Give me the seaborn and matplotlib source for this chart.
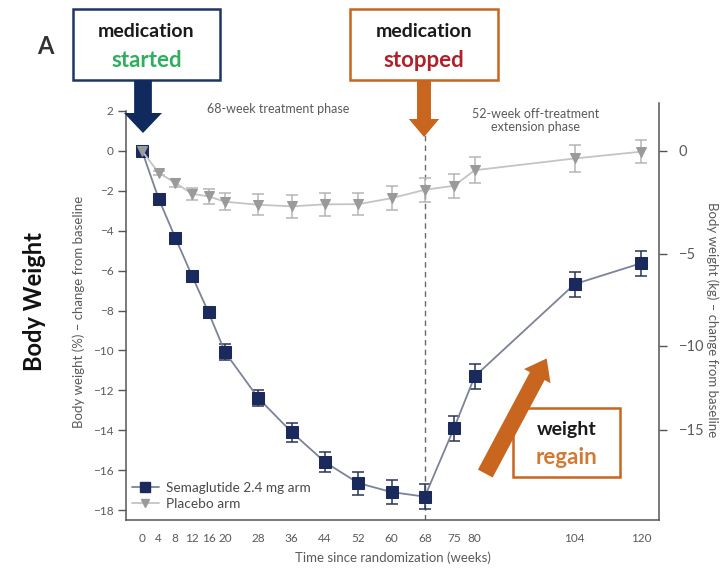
import numpy as np
import pandas as pd
import matplotlib
matplotlib.use("Agg")
import matplotlib.pyplot as plt
import seaborn as sns
from matplotlib.patches import Rectangle, FancyArrow, FancyArrowPatch
from matplotlib.lines import Line2D

# ---- data: mean % change in body weight from baseline (with SE) ----
weeks = [0, 4, 8, 12, 16, 20, 28, 36, 44, 52, 60, 68, 75, 80, 104, 120]
sema = [0, -2.4, -4.35, -6.25, -8.1, -10.1, -12.4, -14.1, -15.6, -16.65,
        -17.1, -17.33, -13.9, -11.3, -6.68, -5.63]
sema_err = [0, 0.15, 0.2, 0.25, 0.3, 0.4, 0.4, 0.48, 0.5, 0.58,
            0.6, 0.62, 0.63, 0.63, 0.63, 0.63]
placebo = [0, -1.1, -1.6, -2.15, -2.28, -2.55, -2.7, -2.78, -2.68, -2.67,
           -2.37, -1.95, -1.75, -0.97, -0.38, -0.04]
placebo_err = [0, 0.1, 0.2, 0.3, 0.38, 0.43, 0.53, 0.57, 0.56, 0.54,
               0.6, 0.6, 0.6, 0.65, 0.68, 0.58]
arms = ["Semaglutide 2.4 mg arm", "Placebo arm"]
week_ticks = weeks
pct_ticks = [2, 0, -2, -4, -6, -8, -10, -12, -14, -16, -18]
kg_ticks = [0, -5, -10, -15]
kg_tick_pct = [0, -5.16, -9.77, -13.98]

df = pd.DataFrame({
    "week": weeks * 2,
    "change": sema + placebo,
    "err": sema_err + placebo_err,
    "arm": [arms[0]] * len(weeks) + [arms[1]] * len(weeks),
})

sns.set_theme(style="white")
plt.rcParams["font.family"] = ["Lato", "DejaVu Sans"]

NAVY = "#1b2a5c"
LINE_NAVY = "#7d8397"
ORANGE = "#c8651f"
AXC = "#555555"
TXT = "#5a5a5a"


def minus(v):
    return str(v) if v >= 0 else "\u2212" + str(-v)


W, H = 724, 571


def fx(px):
    return px / W


def fy(py):
    return 1 - py / H


fig = plt.figure(figsize=(7.24, 5.71), dpi=100)
ax = fig.add_axes([126 / W, 1 - 520 / H, (659 - 126) / W, (520 - 103) / H])

palette = {arms[0]: LINE_NAVY, arms[1]: "#c4c4c4"}
sns.lineplot(data=df, x="week", y="change", hue="arm", style="arm",
             markers={arms[0]: "s", arms[1]: "v"}, dashes=False,
             palette=palette, linewidth=1.3, markersize=8, ax=ax,
             legend=False, zorder=3)

# navy squares and grey triangles on top of the connecting lines
for line, face, ms in zip(ax.lines[:2], [NAVY, "#9a9a9a"], [8.0, 6.5]):
    line.set_markerfacecolor(face)
    line.set_markeredgecolor(face)
    line.set_markersize(ms)

for arm, col in zip(arms, ["#2b3553", "#b5b5b5"]):
    sub = df[df["arm"] == arm]
    ax.errorbar(sub["week"], sub["change"], yerr=sub["err"], fmt="none",
                ecolor=col, elinewidth=1.1, capsize=4.5, capthick=1.1, zorder=2)

ax.set_xlim(-3.85, 124.3)
ax.set_ylim(-18.5, 2.4)
ax.set_xticks(week_ticks)
ax.set_xticklabels([str(w) for w in week_ticks])
ax.set_yticks(pct_ticks)
ax.set_yticklabels([minus(v) for v in pct_ticks])
ax.tick_params(axis="both", direction="out", length=6, width=1.0, color=AXC,
               labelsize=8.5, labelcolor=TXT, pad=3)
for s in ["top", "right"]:
    ax.spines[s].set_visible(False)
for s in ["left", "bottom"]:
    ax.spines[s].set_color(AXC)
    ax.spines[s].set_linewidth(1.1)
ax.spines["left"].set_bounds(-18.5, 2)
ax.set_xlabel("Time since randomization (weeks)", fontsize=9.5, color=TXT, labelpad=6)
ax.set_ylabel("Body weight (%) \u2013 change from baseline", fontsize=9.5,
              color=TXT, labelpad=6)
ax.grid(False)

# right axis: absolute change in kg
ax2 = ax.twinx()
ax2.set_ylim(ax.get_ylim())
ax2.set_yticks(np.interp(kg_ticks, kg_ticks[::-1], kg_tick_pct[::-1]))
ax2.set_yticklabels([minus(v) for v in kg_ticks])
ax2.tick_params(axis="y", direction="out", length=6, width=1.0, color=AXC,
                labelsize=10.5, labelcolor=TXT, pad=8)
for s in ["top", "left", "bottom"]:
    ax2.spines[s].set_visible(False)
ax2.spines["right"].set_color(AXC)
ax2.spines["right"].set_linewidth(1.1)
ax2.grid(False)
fig.text(fx(712), fy(320), "Body weight (kg) \u2013 change from baseline",
         fontsize=9.5, color=TXT, rotation=270, ha="center", va="center")

# treatment stop marker
ax.axvline(68, ymin=0, ymax=(0.8 + 18.5) / 20.9, color="#6a6a6a",
           linestyle=(0, (4, 3)), linewidth=1.0, zorder=1)

# legend
handles = [
    Line2D([], [], color=LINE_NAVY, marker="s", markerfacecolor=NAVY,
           markeredgecolor=NAVY, markersize=7.5, linewidth=1.3),
    Line2D([], [], color="#c4c4c4", marker="v", markerfacecolor="#9a9a9a",
           markeredgecolor="#9a9a9a", markersize=6, linewidth=1.3),
]
leg = ax.legend(handles, arms, loc="lower left", bbox_to_anchor=(-0.005, 0.005),
                frameon=False, fontsize=9.8, handlelength=2.0, handletextpad=0.5,
                labelspacing=0.3, borderaxespad=0.2)
for t in leg.get_texts():
    t.set_color("#4a4a4a")

# phase captions
ax.text(0.285, 0.985, "68-week treatment phase", transform=ax.transAxes,
        ha="center", va="center", fontsize=9, color=TXT)
ax.text(0.768, 0.958, "52-week off-treatment\nextension phase", transform=ax.transAxes,
        ha="center", va="center", fontsize=9, color=TXT, linespacing=1.05)

# figure-level callouts
fig.text(fx(45), fy(46), "A", fontsize=17, fontweight="bold", color="#333333",
         ha="center", va="center")
fig.text(fx(35), fy(302), "Body Weight", fontsize=17, fontweight="bold",
         color="#111111", rotation=90, ha="center", va="center")


def callout(x0, y0, x1, y1, edge, top, bottom, bottom_color, top_size, bottom_size):
    fig.patches.append(Rectangle((fx(x0), fy(y1)), fx(x1) - fx(x0), fy(y0) - fy(y1),
                                 transform=fig.transFigure, fill=False,
                                 edgecolor=edge, linewidth=1.8))
    cx = fx((x0 + x1) / 2)
    fig.text(cx, fy(y0 + (y1 - y0) * 0.31), top, fontsize=top_size, fontweight="bold",
             color="#1a1a1a", ha="center", va="center")
    fig.text(cx, fy(y0 + (y1 - y0) * 0.72), bottom, fontsize=bottom_size,
             fontweight="bold", color=bottom_color, ha="center", va="center")


callout(73, 9, 220, 80, "#1f3566", "medication", "started", "#2fae5e", 14, 16)
callout(350, 9, 498, 80, ORANGE, "medication", "stopped", "#b0202a", 14, 16)
callout(513, 408, 620, 477, ORANGE, "weight", "regain", "#d27a35", 14, 16)


def block_arrow(x_start, y_start, x_end, y_end, color, width, head_w, head_l):
    dx = fx(x_end) - fx(x_start)
    dy = fy(y_end) - fy(y_start)
    a = FancyArrow(fx(x_start), fy(y_start), dx, dy, width=width / H,
                   head_width=head_w / H, head_length=head_l / H,
                   length_includes_head=True, transform=fig.transFigure,
                   color=color, linewidth=0)
    fig.patches.append(a)


block_arrow(143, 80, 143, 133, "#102a5e", 14, 30, 20)
block_arrow(424, 80, 424, 137, ORANGE, 11, 24, 18)

# diagonal "regain" arrow
fig.patches.append(FancyArrowPatch((fx(484), fy(476)), (fx(548), fy(356)),
                                   transform=fig.transFigure,
                                   arrowstyle="simple,head_width=1.8,head_length=1.2,tail_width=1.0",
                                   mutation_scale=12, color=ORANGE, linewidth=0))

fig.savefig("out.png", dpi=100, facecolor="white")
